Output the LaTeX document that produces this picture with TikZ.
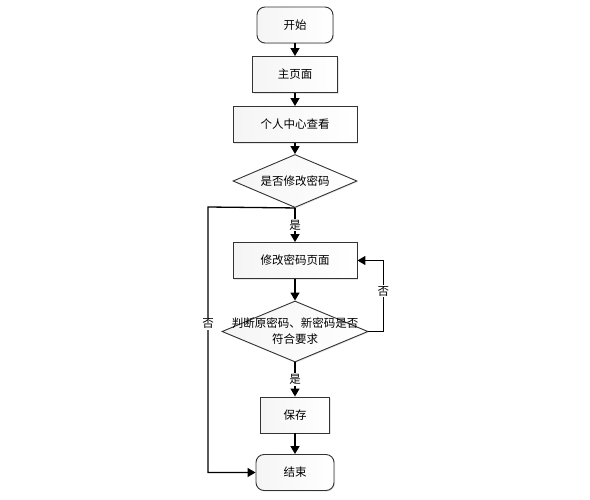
\documentclass[tikz,border=0pt]{standalone}
\usepackage{fontspec}
\newfontfamily\cjk{Noto Sans CJK SC}
\usepackage{tikz}
\usetikzlibrary{shapes}
\usetikzlibrary{arrows,arrows.meta}
\usetikzlibrary{shapes.geometric}
\usetikzlibrary{positioning}
\usetikzlibrary{calc,shadows}
\tikzstyle{materia}=[draw=black!80, line width=0.9pt, text centered,
  minimum height=36pt, inner sep=2pt,
  left color=blue!9!black!4, right color=white,
  drop shadow={opacity=0.2, shadow xshift=1pt, shadow yshift=-1pt}]
\tikzstyle{nprocess} = [materia]
\tikzstyle{tprocess} = [materia, rounded corners=8pt]
\tikzstyle{dprocess} = [materia, diamond, inner sep=0pt, align=center,
  minimum height=53pt]
\tikzstyle{line} = [draw, line width=1.3pt, -{Triangle[length=8pt,width=9pt]}]
\tikzstyle{answer} = [fill=white, inner sep=1pt]
\newcommand{\nprocess}[3]{node (p#1) [nprocess, minimum width=#2pt]
  {#3}}
\newcommand{\tprocess}[3]{node (p#1) [tprocess, minimum width=#2pt]
  {#3}}
\newcommand{\dprocess}[4]{node (p#1) [dprocess, minimum width=#2pt,
  minimum height=#3pt] {#4}}

\begin{document}
\begin{tikzpicture}[x=1pt,y=1pt,font=\cjk\fontsize{11.5}{16}\selectfont]
    \useasboundingbox (0,0) rectangle (590,-499);

    % Draw diagram elements
    \path (295,-25) \tprocess{0}{76}{开始};
    \path (p0)+(0,-49.5) \nprocess{1}{85}{主页面};
    \path (p1)+(0,-50) \nprocess{2}{124}{个人中心查看};
    \path (p2)+(0,-56.5) \dprocess{3}{124}{53}{\makebox[0pt]{是否修改密码}};
    \path (p3)+(0,-79.5) \nprocess{4}{124}{修改密码页面};
    \path (p4)+(0,-71) \dprocess{5}{146}{61}{\makebox[0pt]{判断原密码、新密码是否}\\
      \makebox[0pt]{符合要求}};
    \path (p5)+(0,-83.5) \nprocess{6}{69}{保存};
    \path (p6)+(0,-57.5) \tprocess{7}{78}{结束};
    \coordinate (lft) at (208,-207);

    % Draw arrows between elements
    \path [line] (p0) -- (p1);
    \path [line] (p1) -- (p2);
    \path [line] (p2) -- (p3);
    \path [line] (p3) -- node [answer] {是} (p4);
    \path [line] (p4) -- (p5);
    \path [line] (p5) -- node [answer] {是} (p6);
    \path [line] (p6) -- (p7);
    \path [line] (p3.south) -- (lft) |- node [answer, pos=0.22] {否} (p7.west);
    \path [line] (p5.east) -- +(15,0) |- node [answer, pos=0.285] {否} (p4.east);

  \end{tikzpicture}
\end{document}
